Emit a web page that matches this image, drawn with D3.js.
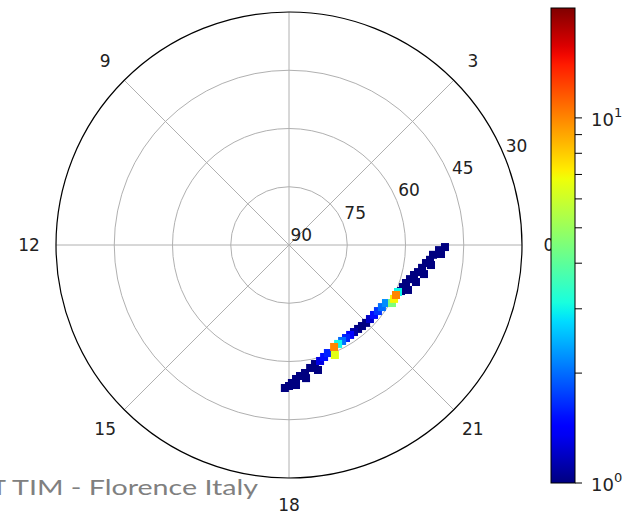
<!DOCTYPE html>
<html>
<head>
<meta charset="utf-8">
<script src="https://cdn.jsdelivr.net/npm/d3@7"></script>
<style>
  body { margin: 0; background: #fff; }
  svg { display: block; font-family: "DejaVu Sans", sans-serif; }
</style>
</head>
<body>
<div id="content"></div>
<script>
// data: hour of day, elevation (deg), count per cell
var hours = [23.95, 23.87, 23.74, 23.60, 23.50, 23.35, 23.21, 23.10, 22.95, 22.80, 22.65, 22.51,
             23.774, 23.465, 23.19, 22.917, 22.62,
             22.445, 22.33, 22.19, 22.04, 21.94, 21.75, 21.56, 21.37, 21.17, 20.98, 20.80, 20.63,
             20.45, 20.28, 20.10, 19.93, 19.76, 19.59, 19.51, 19.32, 19.16,
             19.00, 18.82, 18.65, 18.475, 18.32, 18.20, 18.08, 18.00, 17.89,
             18.871, 18.486, 18.191];
var elevations = [49.83, 51.35, 52.83, 53.49, 54.42, 55.24, 56.06, 56.90, 57.63, 58.32, 58.71, 58.82,
             50.79, 53.07, 54.44, 55.94, 57.24,
             59.43, 59.59, 59.60, 59.56, 60.90, 61.22, 61.47, 61.65, 61.75, 61.78, 61.92, 62.01,
             62.03, 62.00, 61.91, 61.76, 61.56, 61.29, 59.30, 60.43, 59.78,
             59.08, 58.63, 57.87, 56.78, 56.15, 55.45, 54.46, 53.69, 53.16,
             56.96, 55.44, 53.90];
var counts = [1, 1, 1, 1, 1, 1, 1, 1, 1, 1, 1, 1,
             1, 1, 1, 1, 1,
             3, 10, 7, 4.5, 2.2, 2.0, 1.7, 1.5, 1.2, 1, 1, 1,
             1.1, 1.4, 1.6, 2.0, 3, 10, 6.5, 1.6, 1.5,
             1.3, 1, 1, 1, 1, 1, 1, 1, 1,
             1, 1, 1];

var hourTicks = [0, 3, 6, 9, 12, 15, 18, 21];
var elevTicks = [90, 75, 60, 45, 30];
var cbMajor = [1, 10];
var cbMinor = [2, 3, 4, 5, 6, 7, 8, 9];
var footer = "T TIM - Florence Italy";

var width = 625, height = 515;
var cx = 289, cy = 245, R = 233;

var svg = d3.select('#content').append('svg')
  .attr('width', width).attr('height', height);

// matplotlib "jet"
var jr = d3.scaleLinear().domain([0, 0.35, 0.66, 0.89, 1]).range([0, 0, 1, 1, 0.5]).clamp(true);
var jg = d3.scaleLinear().domain([0, 0.125, 0.375, 0.64, 0.91, 1]).range([0, 0, 1, 1, 0, 0]).clamp(true);
var jb = d3.scaleLinear().domain([0, 0.11, 0.34, 0.65, 1]).range([0.5, 1, 1, 0, 0]).clamp(true);
function jet(t){
  return d3.rgb(jr(t) * 255, jg(t) * 255, jb(t) * 255).toString();
}

var rScale = d3.scaleLinear().domain([90, 30]).range([0, R]);
var norm = d3.scaleLog().domain([1, 20]).range([0, 1]).clamp(true);

function px(h, e){ var a = h * 15 * Math.PI / 180; return cx + rScale(e) * Math.cos(a); }
function py(h, e){ var a = h * 15 * Math.PI / 180; return cy - rScale(e) * Math.sin(a); }

// grid
var grid = svg.append('g');
grid.selectAll('circle.ring').data(elevTicks.slice(1, 4)).enter().append('circle')
  .attr('cx', cx).attr('cy', cy).attr('r', function(d){ return rScale(d); })
  .attr('fill', 'none').attr('stroke', '#b0b0b0').attr('stroke-width', 1);
grid.selectAll('line').data(hourTicks).enter().append('line')
  .attr('x1', cx).attr('y1', cy)
  .attr('x2', function(d){ return px(d, 30); })
  .attr('y2', function(d){ return py(d, 30); })
  .attr('stroke', '#b0b0b0').attr('stroke-width', 1);

// cells, low counts first so the hot ones sit on top
var cells = d3.range(hours.length).sort(function(a, b){ return counts[a] - counts[b]; });
var sz = 8;
svg.append('g').selectAll('rect').data(cells).enter().append('rect')
  .attr('x', function(i){ return px(hours[i], elevations[i]) - sz / 2; })
  .attr('y', function(i){ return py(hours[i], elevations[i]) - sz / 2; })
  .attr('width', sz).attr('height', sz)
  .attr('fill', function(i){ return jet(norm(counts[i])); });

// outer spine
svg.append('circle').attr('cx', cx).attr('cy', cy).attr('r', R)
  .attr('fill', 'none').attr('stroke', '#000').attr('stroke-width', 1.2);

// radial labels along 22.5 deg
var la = 22.5 * Math.PI / 180;
svg.append('g').selectAll('text').data(elevTicks).enter().append('text')
  .attr('x', function(d){ return cx + rScale(d) * Math.cos(la) + 1.5; })
  .attr('y', function(d){ return cy - rScale(d) * Math.sin(la) - 4; })
  .attr('font-size', 17).attr('fill', '#222')
  .text(function(d){ return d; });

// hour labels ("6" would sit above the page, the picture doesn't show it)
svg.append('g').selectAll('text').data(hourTicks.filter(function(d){ return d != 6; })).enter().append('text')
  .attr('x', function(d){ return cx + 260 * Math.cos(d * 15 * Math.PI / 180); })
  .attr('y', function(d){ return cy - 260 * Math.sin(d * 15 * Math.PI / 180); })
  .attr('text-anchor', 'middle').attr('dominant-baseline', 'central')
  .attr('font-size', 17).attr('fill', '#222')
  .text(function(d){ return d; });

// footer text (cut at the left edge)
svg.append('text').attr('x', 12).attr('y', 495)
  .attr('font-family', 'Lato, sans-serif').attr('font-size', 21)
  .attr('fill', '#808080').attr('textLength', 246).attr('lengthAdjust', 'spacingAndGlyphs')
  .text(footer.slice(2));
svg.append('text').attr('x', 12 - 6).attr('y', 495)
  .attr('font-family', 'Lato, sans-serif').attr('font-size', 21)
  .attr('fill', '#808080').attr('text-anchor', 'end')
  .text(footer.slice(0, 1));

// colorbar
var cbX = 551, cbW = 24, cbTop = 8, cbBot = 483;
var cbScale = d3.scaleLog().domain([1, 20]).range([cbBot, cbTop]);
var grad = svg.append('defs').append('linearGradient').attr('id', 'jetgrad')
  .attr('x1', 0).attr('y1', 1).attr('x2', 0).attr('y2', 0);
grad.selectAll('stop').data(d3.range(0, 1.0001, 0.02)).enter().append('stop')
  .attr('offset', function(d){ return d; })
  .attr('stop-color', function(d){ return jet(d); });
svg.append('rect').attr('x', cbX).attr('y', cbTop).attr('width', cbW).attr('height', cbBot - cbTop)
  .attr('fill', 'url(#jetgrad)').attr('stroke', '#000').attr('stroke-width', 1);

var cb = svg.append('g');
cb.selectAll('line.minor').data(cbMinor).enter().append('line')
  .attr('x1', cbX + cbW).attr('x2', cbX + cbW + 7)
  .attr('y1', function(d){ return cbScale(d); }).attr('y2', function(d){ return cbScale(d); })
  .attr('stroke', '#000').attr('stroke-width', 1);
cb.selectAll('line.major').data(cbMajor).enter().append('line')
  .attr('x1', cbX + cbW).attr('x2', cbX + cbW + 7)
  .attr('y1', function(d){ return cbScale(d); }).attr('y2', function(d){ return cbScale(d); })
  .attr('stroke', '#000').attr('stroke-width', 1);
var lbl = cb.selectAll('text').data(cbMajor).enter().append('text')
  .attr('x', 591).attr('y', function(d){ return cbScale(d) + 8; })
  .attr('font-size', 18).attr('fill', '#222');
lbl.append('tspan').text('10');
lbl.append('tspan').attr('font-size', 13).attr('dy', -9)
  .text(function(d){ return Math.round(Math.log10(d)); });
</script>
</body>
</html>
